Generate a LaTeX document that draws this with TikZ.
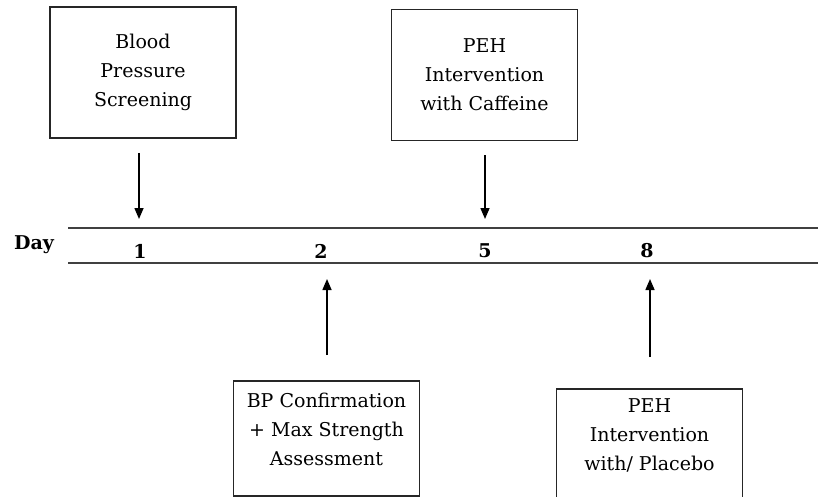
\documentclass[tikz,border=0pt]{standalone}
\usepackage{fontspec}
\setmainfont{DejaVu Serif}
\usepackage{tikz}
\usetikzlibrary{arrows.meta, positioning}

\begin{document}
\begin{tikzpicture}[x=1pt, y=-1pt,
    eventblock/.style={rectangle, draw=black!85, line width=1.6pt, fill=white, minimum width=186pt, minimum height=131pt, align=center, inner sep=0pt, font=\fontsize{19}{29}\selectfont},
    daylabel/.style={font=\fontsize{19}{23}\selectfont\bfseries, inner sep=0pt},
    dayline/.style={draw=black!75, line width=2.2pt},
    arrow/.style={draw=black, -{Triangle[length=11pt, width=9pt]}, line width=1.5pt}]

    \clip (0,0) rectangle (818,497);

    % timeline
    \coordinate (linestart) at (68,228);
    \coordinate (lineend) at (818,228);
    \draw [dayline] (linestart) -- (lineend);
    \draw [dayline] ([yshift=-35pt]linestart) -- ([yshift=-35pt]lineend);

    \node [daylabel] (day) at (34,245) {Day};
    \node [daylabel] (d1) at (140,251) {1};
    \node [daylabel] (d2) at (321,251) {2};
    \node [daylabel] (d5) at (485,251) {5};
    \node [daylabel] (d8) at (647,251) {8};

    % events above the line
    \node [eventblock] (screening) at (143,72.5) {Blood\\ Pressure\\ Screening};
    \node [eventblock] (caffeine) at (484.5,75) {PEH\\ Intervention\\ with Caffeine};

    % events below the line
    \node [eventblock, minimum height=115pt] (confirm) at (326.5,438.5) {BP Confirmation\\ + Max Strength\\ Assessment\\[-10pt] \mbox{}};
    \node [eventblock, anchor=north, minimum height=121pt] (placebo) at (649.5,388) {PEH\\ Intervention\\ with/ Placebo\\ \mbox{}};

    \coordinate (tip1) at (139,219);
    \coordinate (tip5) at (485,219);
    \coordinate (tip2) at (327,279);
    \coordinate (tip8) at (650,279);

    \draw [arrow] ([xshift=-4pt, yshift=-14pt]screening.south) -- (tip1);
    \draw [arrow] ([xshift=0.5pt, yshift=-14pt]caffeine.south) -- (tip5);
    \draw [arrow] ([xshift=0.5pt, yshift=25pt]confirm.north) -- (tip2);
    \draw [arrow] ([xshift=0.5pt, yshift=31pt]placebo.north) -- (tip8);

\end{tikzpicture}
\end{document}
